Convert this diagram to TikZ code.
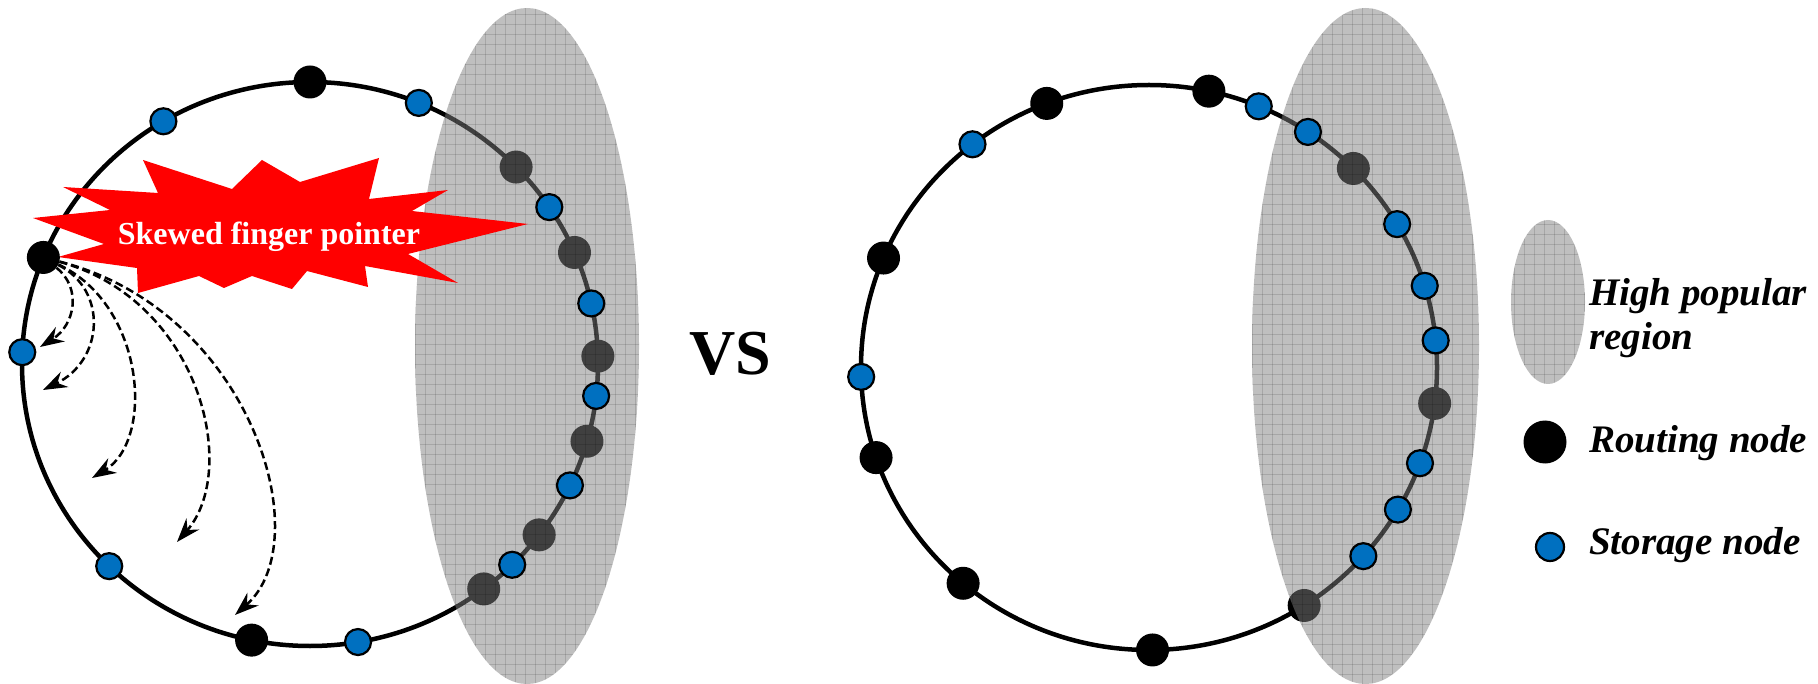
\documentclass[tikz,border=0pt]{standalone}
\usepackage{fontspec}
\setmainfont{Liberation Serif}
\usetikzlibrary{arrows.meta}

\definecolor{nodeblue}{RGB}{0,112,192}
\definecolor{burstred}{RGB}{255,0,0}

\begin{document}
\begin{tikzpicture}[x=1pt,y=-1pt,
  ring/.style={line width=4.5pt},
  routing/.style={circle,fill=black,inner sep=0pt,minimum size=33pt},
  storage/.style={circle,fill=nodeblue,draw=black,line width=2.2pt,inner sep=0pt,minimum size=26pt},
  hot/.style={fill=gray,fill opacity=0.5},
  hotgrid/.style={draw=black,draw opacity=0.13,line width=0.9pt},
  hop/.style={line width=2.5pt,dash pattern=on 8pt off 4pt,
    -{Stealth[length=24pt,width=17pt,inset=8pt]}},
  keytext/.style={font=\fontsize{39}{44}\selectfont\bfseries\itshape,
    anchor=west,align=left,inner sep=0pt}
]
\useasboundingbox (0,0) rectangle (1818,684);

% the two rings
\draw[ring] (310,364) ellipse [x radius=288, y radius=282];
\draw[ring] (1149,367.5) ellipse [x radius=288, y radius=282.5];

% routing nodes lying inside the popular regions (shaded by the overlay)
\begin{scope}[shift={(310,364)}]
  \foreach \a [count=\i] in {-44.3,-23.3,-1.6,15.9,37.3,52.9}
    \node[routing] (lh\i) at (\a:288 and 282) {};
\end{scope}
\begin{scope}[shift={(1149,367.5)}]
  \foreach \a [count=\i] in {-44.8,7.3,57.4}
    \node[routing] (rh\i) at (\a:288 and 282.5) {};
\end{scope}

% high popular regions
\begin{scope}
  \clip (527,346) ellipse [x radius=112, y radius=338];
  \fill[hot] (410,0) rectangle (645,690);
  \foreach \x in {415,425,...,645} \draw[hotgrid] (\x,0) -- (\x,690);
  \foreach \y in {4,14,...,690} \draw[hotgrid] (410,\y) -- (645,\y);
\end{scope}
\begin{scope}
  \clip (1365.5,346) ellipse [x radius=113.5, y radius=338];
  \fill[hot] (1248,0) rectangle (1485,690);
  \foreach \x in {1252,1262,...,1482} \draw[hotgrid] (\x,0) -- (\x,690);
  \foreach \y in {4,14,...,690} \draw[hotgrid] (1248,\y) -- (1485,\y);
\end{scope}

% skewed finger pointer burst
\fill[burstred] (33,218) -- (110,210) -- (63,187) -- (158,193) -- (143,160)
  -- (232,189) -- (262,160) -- (300,182) -- (379,158) -- (369,199)
  -- (448,190) -- (412,211) -- (528,224) -- (408,254) -- (458,283)
  -- (365,266) -- (368,287) -- (307,271) -- (292,289) -- (252,276)
  -- (224,288) -- (199,276) -- (138,293) -- (137,268) -- (58,257)
  -- (104,244) -- cycle;
\node[text=white,font=\fontsize{32}{32}\selectfont\bfseries,anchor=base,inner sep=0pt]
  (burstlabel) at (269,245) {Skewed finger pointer};

% remaining routing nodes
\begin{scope}[shift={(310,364)}]
  \node[routing] (ltop) at (-90:288 and 282) {};
  \node[routing] (fp) at (-157.8:288 and 282) {};
  \node[routing] (lbot) at (101.7:288 and 282) {};
\end{scope}
\begin{scope}[shift={(1149,367.5)}]
  \foreach \a [count=\i] in {-110.8,-78.0,-157.2,161.4,130.2,89.3}
    \node[routing] (rr\i) at (\a:288 and 282.5) {};
\end{scope}

% storage nodes
\begin{scope}[shift={(310,364)}]
  \foreach \a [count=\i] in {-120.6,-67.8,-33.8,-12.4,6.5,25.5,45.4,80.4,134.2,182.4}
    \node[storage] (ls\i) at (\a:288 and 282) {};
\end{scope}
\begin{scope}[shift={(1149,367.5)}]
  \foreach \a [count=\i] in {-67.6,-56.5,-127.8,-30.5,-16.8,-5.5,19.8,30.2,41.9,178.1}
    \node[storage] (rs\i) at (\a:288 and 282.5) {};
\end{scope}

% finger pointer hops
\coordinate (h1) at (40,347);
\coordinate (h2) at (43,390);
\coordinate (h3) at (92,478);
\coordinate (h4) at (177,542);
\coordinate (h5) at (235,615);
\draw[hop] (fp) .. controls (82,288) and (75,325) .. (h1);
\draw[hop] (fp) .. controls (108,290) and (104,360) .. (h2);
\draw[hop] (fp) .. controls (145,305) and (155,440) .. (h3);
\draw[hop] (fp) .. controls (200,300) and (240,470) .. (h4);
\draw[hop] (fp) .. controls (250,310) and (320,540) .. (h5);

% versus
\node[font=\fontsize{64}{64}\selectfont\bfseries,inner sep=0pt] (vs) at (730,354) {VS};

% legend
\begin{scope}
  \clip (1548,302) ellipse [x radius=37, y radius=82];
  \fill[hot] (1505,215) rectangle (1590,390);
  \foreach \x in {1514,1524,...,1584} \draw[hotgrid] (\x,215) -- (\x,390);
  \foreach \y in {224,234,...,384} \draw[hotgrid] (1505,\y) -- (1590,\y);
\end{scope}
\node[keytext] (keyhot) at (1589,318) {High popular\\region};
\node[routing,minimum size=43pt] (keyroute) at (1545,442) {};
\node[keytext,anchor=base west] (keyroutetext) at (1589,452) {Routing node};
\node[storage,minimum size=28pt] (keystore) at (1550,547) {};
\node[keytext,anchor=base west] (keystoretext) at (1589,554) {Storage node};
\end{tikzpicture}
\end{document}
